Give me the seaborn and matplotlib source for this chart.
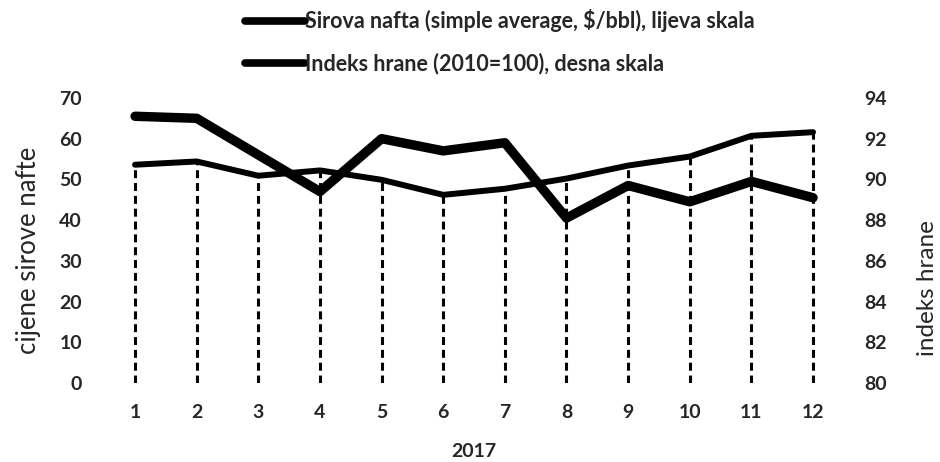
import matplotlib
matplotlib.use("Agg")
import matplotlib.pyplot as plt
import seaborn as sns
import pandas as pd

# ---------------- DATA ---------------- #
months = [1, 2, 3, 4, 5, 6, 7, 8, 9, 10, 11, 12]
crude_oil = [53.6, 54.4, 50.9, 52.2, 49.9, 46.2, 47.7, 50.2, 53.4, 55.6, 60.7, 61.6]
food_index = [93.1, 93.0, 91.2, 89.4, 92.0, 91.4, 91.8, 88.1, 89.7, 88.9, 89.9, 89.1]

oil_label = "Sirova nafta (simple average, $/bbl), lijeva skala"
food_label = "Indeks hrane (2010=100), desna skala"
left_ticks = [0, 10, 20, 30, 40, 50, 60, 70]
right_ticks = [80, 82, 84, 86, 88, 90, 92, 94]

# ---------------- STYLE ---------------- #
sns.set_style("white")
plt.rcParams["font.family"] = ["Lato", "DejaVu Sans"]

df = pd.DataFrame({"month": months, "oil": crude_oil, "food": food_index})

fig = plt.figure(figsize=(9.4, 4.62), dpi=100)
ax = fig.add_axes([0.1109, 0.171, 0.7868, 0.617])
ax2 = ax.twinx()

# drop lines from the oil series down to the axis
ax.vlines(df["month"], 0, df["oil"], colors="black", linestyles=(0, (2.6, 1.6)),
          linewidth=2.2, zorder=1)

sns.lineplot(data=df, x="month", y="oil", ax=ax, color="black", linewidth=4.3,
             label=oil_label, legend=False, zorder=3,
             solid_capstyle="round", solid_joinstyle="round")
sns.lineplot(data=df, x="month", y="food", ax=ax2, color="black", linewidth=6.8,
             label=food_label, legend=False, zorder=3,
             solid_capstyle="round", solid_joinstyle="round")

ax.set_xlim(0.5, 12.5)
ax.set_ylim(0, 70)
ax2.set_ylim(80, 94)
ax.set_xticks(months)
ax.set_yticks(left_ticks)
ax2.set_yticks(right_ticks)

for a in (ax, ax2):
    for s in a.spines.values():
        s.set_visible(False)
    a.tick_params(length=0, labelsize=14)
    for t in a.get_xticklabels() + a.get_yticklabels():
        t.set_fontweight("bold")

ax.tick_params(axis="x", pad=15)
ax.tick_params(axis="y", pad=16)
ax2.tick_params(axis="y", pad=15)

ax.set_xlabel("2017", fontsize=14, fontweight="bold")
ax.xaxis.set_label_coords(0.5, -0.242)
ax.xaxis.label.set_va("center")
ax.set_ylabel("cijene sirove nafte", fontsize=18.5)
ax.yaxis.set_label_coords(-0.103, 0.467)
ax.yaxis.label.set_va("center")
ax2.set_ylabel("indeks hrane", fontsize=17.5)
ax2.yaxis.set_label_coords(1.113, 0.333)
ax2.yaxis.label.set_va("center")

h1, l1 = ax.get_legend_handles_labels()
h2, l2 = ax2.get_legend_handles_labels()
leg = fig.legend(h1 + h2, l1 + l2, loc="upper left",
                 bbox_to_anchor=(0.252, 0.9985), frameon=False,
                 fontsize=15.5, handlelength=2.75, handletextpad=0.0,
                 labelspacing=0.95, borderaxespad=0)
for line in leg.get_lines():
    line.set_linewidth(5.5)
for t in leg.get_texts():
    t.set_fontweight("bold")

fig.savefig("out.png", dpi=100)
